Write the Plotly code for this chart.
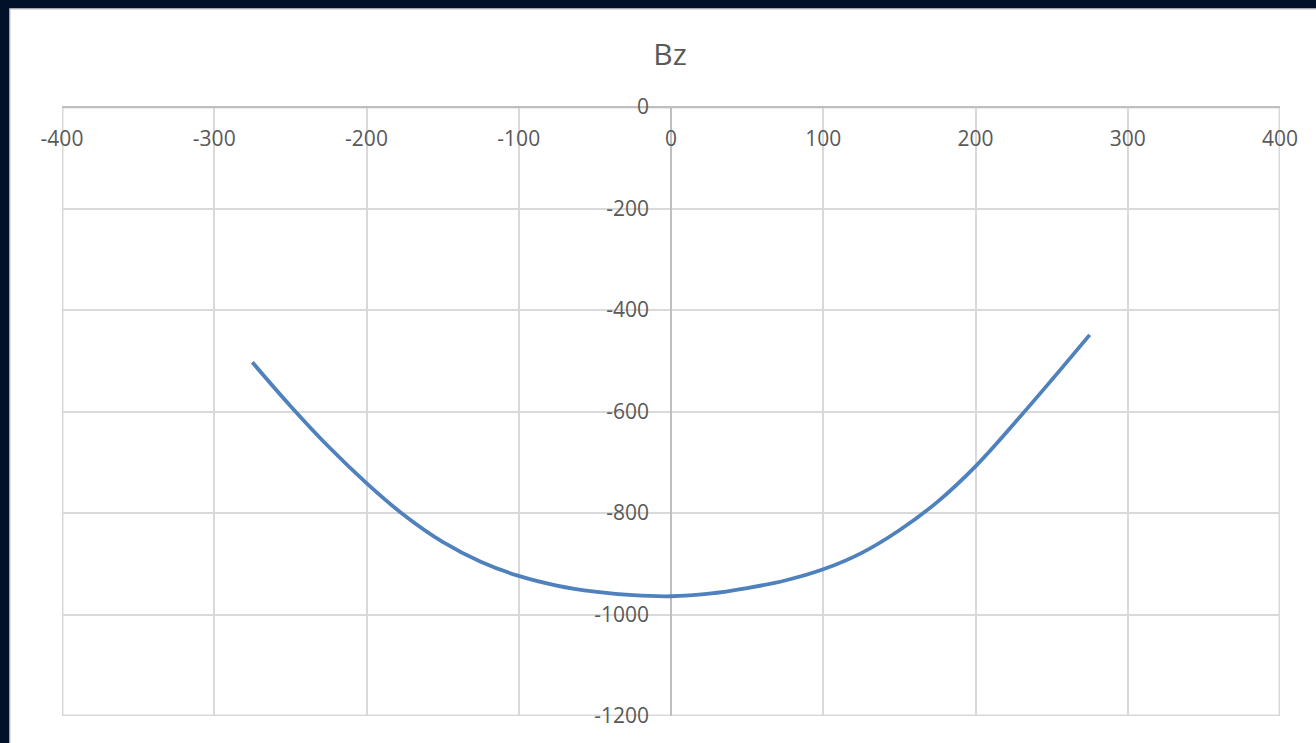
import plotly.graph_objects as go

# Bz profile sampled across the span
x_pos = [-275, -250, -225, -200, -175, -150, -125, -100, -75, -50, -25, 0,
         25, 50, 75, 100, 125, 150, 175, 200, 225, 250, 275]
bz = [-503, -589, -669, -741, -805, -857, -896, -924, -943, -955, -962, -964,
      -959, -948, -933, -911, -879, -834, -778, -708, -625, -538, -449]

x_ticks = [-400, -300, -200, -100, 0, 100, 200, 300, 400]
y_ticks = [0, -200, -400, -600, -800, -1000, -1200]

W, H = 1316, 743
ML, MR, MT, MB = 62, 36, 107, 27
PW, PH = W - ML - MR, H - MT - MB

NAVY = "#02112A"
GRID = "#d9d9d9"
AXIS = "#bfbfbf"
TXT = "#595959"
FONT = "Open Sans"

fig = go.Figure()
fig.add_trace(go.Scatter(
    x=x_pos, y=bz, mode="lines",
    line=dict(color="#4F81BD", width=3.8, shape="spline", smoothing=1.0),
    showlegend=False, hoverinfo="x+y",
))

# white chart card on the dark page
fig.add_shape(
    type="rect", xref="paper", yref="paper", layer="below",
    x0=(10 - ML) / PW, x1=(W + 10 - ML) / PW,
    y0=-(MB + 10) / PH, y1=1 + (MT - 9) / PH,
    fillcolor="white", line=dict(color=GRID, width=1.5),
)
# outer gridlines along the plot-area edges (half the stroke is clipped)
fig.add_shape(
    type="rect", xref="x", yref="y", layer="below",
    x0=x_ticks[0], x1=x_ticks[-1], y0=y_ticks[-1], y1=y_ticks[0],
    line=dict(color=GRID, width=3), fillcolor="rgba(0,0,0,0)",
)

fig.update_layout(
    width=W, height=H,
    margin=dict(l=ML, r=MR, t=MT, b=MB),
    paper_bgcolor=NAVY, plot_bgcolor="white",
    font=dict(family=FONT, color=TXT, size=21),
    title=dict(text="Bz", x=670 / W, xref="container", xanchor="center",
               y=1 - 54 / H, yref="container", yanchor="middle",
               font=dict(family=FONT, size=30, color=TXT)),
    xaxis=dict(
        range=[-400, 400], tickvals=x_ticks, ticktext=[str(v) for v in x_ticks],
        anchor="free", position=1, side="bottom",
        showgrid=True, gridcolor=GRID, gridwidth=1.5,
        zeroline=True, zerolinecolor=AXIS, zerolinewidth=1.5,
        showline=False, ticks="", ticklabelstandoff=17,
        tickfont=dict(family=FONT, size=21, color=TXT),
    ),
    yaxis=dict(
        range=[-1200, 0], tickvals=y_ticks, ticktext=[str(v) for v in y_ticks],
        anchor="free", position=0.5, side="left",
        showgrid=True, gridcolor=GRID, gridwidth=1.5,
        zeroline=True, zerolinecolor=AXIS, zerolinewidth=1.5,
        showline=False, ticks="", ticklabelstandoff=22,
        tickfont=dict(family=FONT, size=21, color=TXT),
    ),
)

fig.write_html("out.html")
